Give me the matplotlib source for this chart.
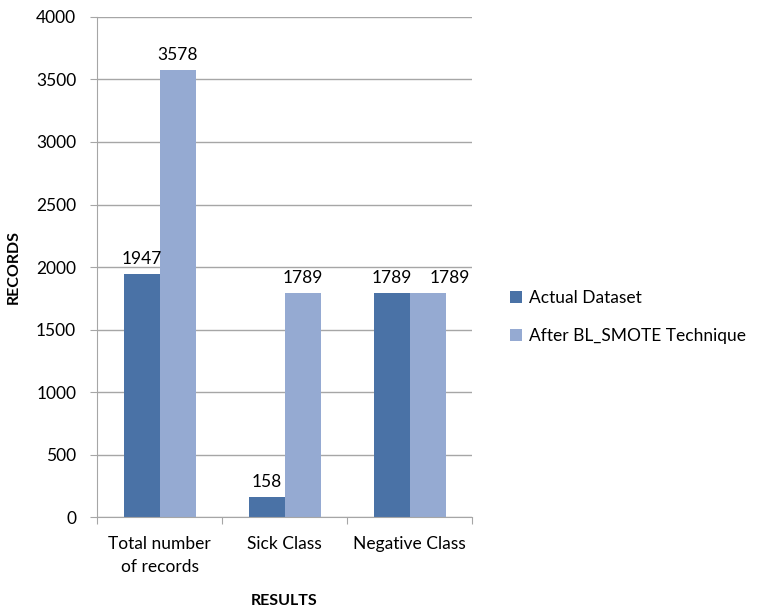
import matplotlib.pyplot as plt
import numpy as np

plt.rcParams['font.family'] = ['Lato', 'DejaVu Sans']

categories = ["Total number\nof records", "Sick Class", "Negative Class"]
actual = [1947, 158, 1789]
after = [3578, 1789, 1789]
series_names = ["Actual Dataset", "After BL_SMOTE Technique"]

dark = "#4a72a6"
light = "#95aad2"
grid_c = "#a6a6a6"

fig = plt.figure(figsize=(7.61, 6.11), dpi=100)
ax = fig.add_axes([0.1275, 0.1538, 0.4928, 0.8184])

x = np.arange(len(categories))
w = 0.288
b1 = ax.bar(x - w / 2, actual, w, color=dark, label=series_names[0])
b2 = ax.bar(x + w / 2, after, w, color=light, label=series_names[1])

for i, (r1, r2) in enumerate(zip(b1, b2)):
    # when both labels sit at the same height, push the second one right like Excel does
    dx = 16 if actual[i] == after[i] else 0
    for r, off in ((r1, 0), (r2, dx)):
        ax.annotate(f"{int(r.get_height())}", (r.get_x() + r.get_width() / 2, r.get_height()),
                    xytext=(off, 5), textcoords="offset points", ha="center", va="bottom", fontsize=12.5)

ax.set_xlim(-0.5, 2.5)
ax.set_ylim(0, 4000)
ax.set_yticks(np.arange(0, 4001, 500))
ax.set_xticks([-0.5, 0.5, 1.5, 2.5])
ax.set_xticklabels([])
ax.set_xticks(x, minor=True)
ax.set_xticklabels(categories, minor=True, fontsize=12.5, linespacing=1.5)
ax.tick_params(axis="x", which="minor", length=0, pad=14)
ax.tick_params(axis="x", which="major", length=5, color=grid_c)
ax.tick_params(axis="y", length=5, color=grid_c, labelsize=12.5, pad=10)

ax.yaxis.grid(True, color=grid_c, linewidth=1)
ax.set_axisbelow(True)
for s in ["top", "right"]:
    ax.spines[s].set_visible(False)
for s in ["left", "bottom"]:
    ax.spines[s].set_color(grid_c)

ax.set_ylabel("RECORDS", fontweight="bold", fontsize=11.5, labelpad=11)
ax.set_xlabel("RESULTS", fontweight="bold", fontsize=11.5, labelpad=14)

ax.legend(loc="center left", bbox_to_anchor=(1.06, 0.40), frameon=False, fontsize=12.5,
          handlelength=0.7, handleheight=0.7, handletextpad=0.4, labelspacing=1.3)

fig.savefig("out.png", dpi=100)
